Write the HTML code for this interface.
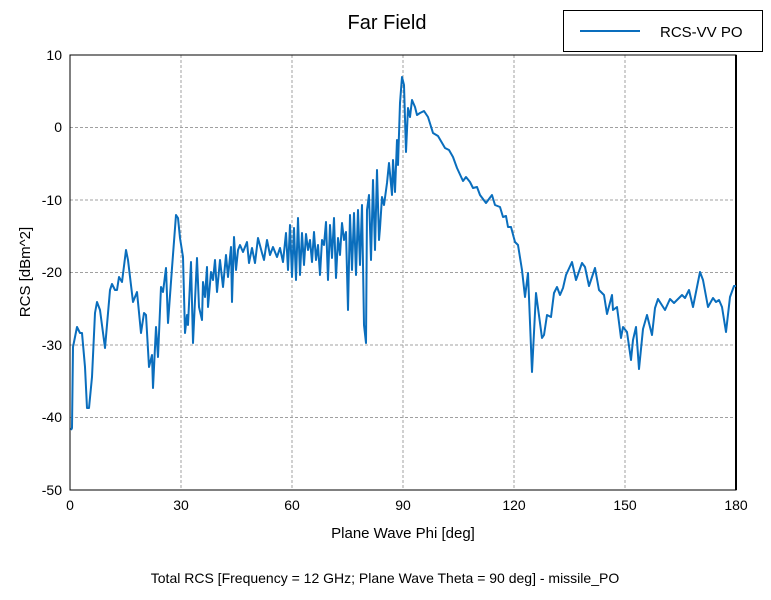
<!DOCTYPE html>
<html><head><meta charset="utf-8"><style>
body{margin:0;background:#fff;width:771px;height:595px;overflow:hidden;font-family:"Liberation Sans",sans-serif}
</style></head><body>
<svg width="771" height="595" xmlns="http://www.w3.org/2000/svg" font-family="Liberation Sans, sans-serif">
<rect width="771" height="595" fill="#fff"/>
<g stroke="#a0a0a0" stroke-dasharray="3,2" stroke-width="1">
<line x1="181" y1="55" x2="181" y2="490"/><line x1="292" y1="55" x2="292" y2="490"/><line x1="403" y1="55" x2="403" y2="490"/><line x1="514" y1="55" x2="514" y2="490"/><line x1="625" y1="55" x2="625" y2="490"/>
<line x1="70" y1="127.5" x2="736" y2="127.5"/><line x1="70" y1="200" x2="736" y2="200"/><line x1="70" y1="272.5" x2="736" y2="272.5"/><line x1="70" y1="345" x2="736" y2="345"/><line x1="70" y1="417.5" x2="736" y2="417.5"/>
</g>
<rect x="70" y="55" width="666" height="435" fill="none" stroke="#000" stroke-width="1"/>
<g stroke="#000"><line x1="736" y1="55" x2="736" y2="490" stroke-width="2"/></g>
<polyline fill="none" stroke="#0a6ebd" stroke-width="2" stroke-linejoin="round" points="71,430 72,428 73,347 77,327 80,333 82,333 85,367 87,408 89,408 92,377 95,313 97,302 100,310 105,348 110,290 112,284 115,290 117,290 119,277 122,282 126,250 128,260 133,302 137,292 141,333 144,313 146,315 149,367 152,355 153,388 156,327 158,357 161,287 163,292 166,268 168,323 172,268 176,215 178,218 180,238 183,257 185,333 187,315 188,325 191,262 193,343 197,258 199,307 202,320 203,282 205,297 207,267 208,307 211,272 213,280 215,260 217,292 220,260 223,287 226,255 228,277 231,247 232,302 234,237 236,270 238,250 240,245 243,252 247,242 249,263 252,248 255,263 258,238 262,253 264,260 267,240 270,255 273,247 277,257 280,248 283,262 286,233 288,270 290,225 292,277 294,228 296,280 298,218 300,275 302,233 304,265 306,234 308,250 310,240 312,262 314,232 316,260 318,245 320,275 322,240 324,245 326,222 328,280 330,225 332,258 334,218 336,278 338,238 340,255 342,223 344,240 346,232 348,310 350,215 352,270 354,213 356,275 358,210 360,265 362,205 364,325 366,343 367,210 369,195 371,260 373,180 375,250 377,170 379,240 380,228 382,197 384,205 387,183 389,163 392,195 393,160 395,192 397,140 398,165 400,103 402,77 404,85 406,152 408,108 410,117 412,100 415,107 417,115 420,113 424,111 428,117 433,133 438,136 445,148 449,150 453,157 457,168 463,181 466,177 470,182 473,188 477,187 480,195 486,203 492,195 495,205 500,207 503,217 506,216 508,227 511,227 515,242 518,245 522,270 525,297 528,273 532,372 536,293 542,338 544,335 547,315 551,317 554,293 557,287 560,295 563,288 566,275 572,262 576,280 582,263 585,267 589,286 595,268 599,290 604,295 607,314 612,295 613,310 617,307 621,338 623,327 627,332 631,360 633,340 636,327 639,369 643,329 647,315 652,335 655,308 658,299 665,310 670,299 674,303 682,295 685,298 689,290 693,307 700,272 703,280 708,307 713,298 716,302 719,300 722,307 726,332 730,297 734,286 736,286"/>
<g font-size="14" fill="#000" text-anchor="end">
<text x="62" y="60">10</text><text x="62" y="132">0</text><text x="62" y="205">-10</text><text x="62" y="277">-20</text><text x="62" y="350">-30</text><text x="62" y="422">-40</text><text x="62" y="495">-50</text>
</g>
<g font-size="14" fill="#000" text-anchor="middle">
<text x="70" y="510">0</text><text x="181" y="510">30</text><text x="292" y="510">60</text><text x="403" y="510">90</text><text x="514" y="510">120</text><text x="625" y="510">150</text><text x="736" y="510">180</text>
<text x="403" y="538" font-size="15">Plane Wave Phi [deg]</text>
<text x="387" y="29" font-size="20">Far Field</text>
<text x="385" y="583" font-size="14">Total RCS [Frequency = 12 GHz; Plane Wave Theta = 90 deg] - missile_PO</text>
<text transform="translate(30,272) rotate(-90)" font-size="15">RCS [dBm^2]</text>
</g>
<rect x="563.5" y="10.5" width="199" height="41" fill="#fff" stroke="#000"/>
<line x1="580" y1="31" x2="640" y2="31" stroke="#0a6ebd" stroke-width="2"/>
<text x="660" y="37" font-size="15">RCS-VV PO</text>
</svg>
</body></html>
